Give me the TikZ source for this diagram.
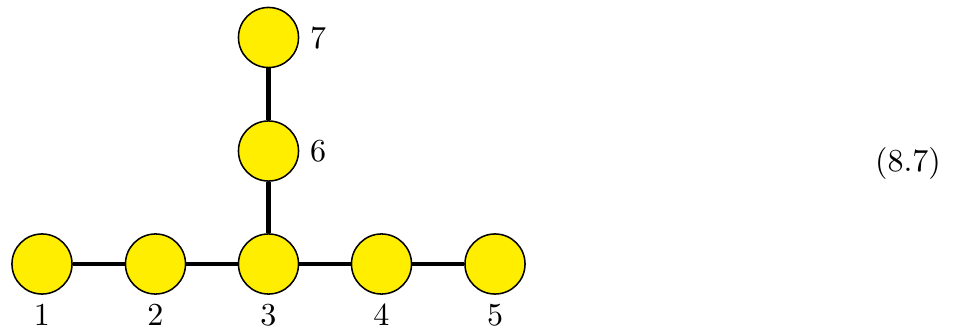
\documentclass[tikz,border=0pt]{standalone}
\definecolor{nodeyellow}{RGB}{255,238,0}
\begin{document}
\begin{tikzpicture}[x=0.3279pt,y=-0.3279pt,
  dot/.style={circle,draw=black,line width=0.5pt,fill=nodeyellow,minimum size=19.7pt,inner sep=0pt},
  edge/.style={line width=1.5pt},
  lab/.style={anchor=base,inner sep=0pt,font=\fontsize{10.5}{12}\selectfont}]
\useasboundingbox (0,0) rectangle (955,330);
\node[dot] (n1) at (42,264) {};
\node[dot] (n2) at (155.5,264) {};
\node[dot] (n3) at (268.5,264) {};
\node[dot] (n4) at (381.5,264) {};
\node[dot] (n5) at (495,264) {};
\node[dot] (n6) at (268.5,151) {};
\node[dot] (n7) at (268.5,37.5) {};
\draw[edge] (n1) -- (n2);
\draw[edge] (n2) -- (n3);
\draw[edge] (n3) -- (n4);
\draw[edge] (n4) -- (n5);
\draw[edge] (n3) -- (n6);
\draw[edge] (n6) -- (n7);
\node[lab] (l1) at (42,325) {1};
\node[lab] (l2) at (155.5,325) {2};
\node[lab] (l3) at (268.5,325) {3};
\node[lab] (l4) at (381.5,325) {4};
\node[lab] (l5) at (495,325) {5};
\node[lab] (l6) at (318,161.5) {6};
\node[lab] (l7) at (318,49) {7};
\node[lab] (eq) at (908,172) {(8.7)};
\end{tikzpicture}
\end{document}
